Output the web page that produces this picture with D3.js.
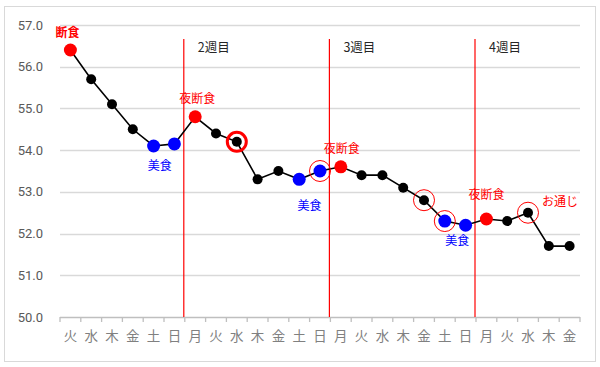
<!DOCTYPE html>
<html><head><meta charset="utf-8">
<script src="https://cdn.jsdelivr.net/npm/d3@7"></script>
<style>body{margin:0;background:#fff;font-family:"Noto Sans CJK JP","Noto Sans",sans-serif;}</style>
</head><body>
<svg id="c" width="600" height="367"></svg>
<script>
const days = ["火","水","木","金","土","日","月","火","水","木","金","土","日","月","火","水","木","金","土","日","月","火","水","木","金"];
const weights = [56.4,55.7,55.1,54.5,54.1,54.15,54.8,54.4,54.2,53.3,53.5,53.3,53.5,53.6,53.4,53.4,53.1,52.8,52.3,52.2,52.35,52.3,52.5,51.7,51.7];
// point type: r = 断食 (red), b = 美食 (blue), k = normal
const kinds = ["r","k","k","k","b","b","r","k","k","k","k","b","b","r","k","k","k","k","b","b","r","k","k","k","k"];
const thickRings = [8];
const thinRings = [12,17,18,22];
const yTicks = [50,51,52,53,54,55,56,57];
const weekStarts = [6,13,20];
const weekLabels = ["2週目","3週目","4週目"];
const noteTexts = ["断食","美食","夜断食","美食","夜断食","美食","夜断食","お通じ"];
const noteIndex = [0,4.3,6,11.5,13,18.6,20,22];
const noteKind = ["r","b","r","b","r","b","r","r"];

// layout for annotations (pixel offsets from the anchored point)
const noteLayout = [
  {dx:-3, dy:-13, bold:true},
  {dx:0, dy:24},
  {dx:2, dy:-14},
  {dx:0, dy:31},
  {dx:1, dy:-14},
  {dx:0, dy:24},
  {dx:0, dy:-20},
  {dx:32, dy:-7}
];

const svg = d3.select("#c");
svg.append("rect").attr("x",4.5).attr("y",6.5).attr("width",591).attr("height",355)
  .attr("fill","#fff").attr("stroke","#d9d9d9").attr("stroke-width",1);

const L=60, R=580, T=25, B=317;
const x = d3.scaleBand().domain(d3.range(days.length)).range([L,R]);
const cx = i => x(Math.floor(i)) + x.bandwidth()/2 + (i%1)*x.bandwidth();
const y = d3.scaleLinear().domain([50,57]).range([B,T]);

// gridlines
svg.append("g").selectAll("line").data(yTicks.filter(v=>v>50)).join("line")
  .attr("x1",L).attr("x2",R).attr("y1",d=>Math.round(y(d))+0.5).attr("y2",d=>Math.round(y(d))+0.5)
  .attr("stroke","#d9d9d9").attr("stroke-width",1.3);

// y labels
svg.append("g").selectAll("text").data(yTicks).join("text")
  .attr("x",43).attr("y",d=>y(d)+4.5).attr("text-anchor","end")
  .attr("font-family","Roboto, 'Noto Sans', sans-serif").attr("font-size",13).attr("fill","#595959")
  .text(d=>d.toFixed(1));

// x axis
const xa = svg.append("g").attr("transform",`translate(0,${B})`)
  .call(d3.axisBottom(x).tickFormat(i=>days[i]).tickSize(0).tickPadding(14));
xa.select(".domain").remove();
xa.selectAll("text").attr("font-size",13.5).attr("fill","#808080")
  .attr("font-family","'Noto Sans CJK JP', sans-serif");
svg.append("line").attr("x1",L).attr("x2",R).attr("y1",B+0.5).attr("y2",B+0.5).attr("stroke","#bfbfbf").attr("stroke-width",1.3);
svg.append("g").selectAll("line").data(d3.range(days.length+1)).join("line")
  .attr("x1",i=>i<days.length?x(i):R).attr("x2",i=>i<days.length?x(i):R)
  .attr("y1",B).attr("y2",B+5).attr("stroke","#bfbfbf").attr("stroke-width",1.3);

// week lines
weekStarts.forEach((w,k)=>{
  const xx = x(w) - 1;
  svg.append("line").attr("x1",xx).attr("x2",xx).attr("y1",39).attr("y2",B)
    .attr("stroke","#ff0000").attr("stroke-width",1.2);
  svg.append("text").attr("x",xx+14).attr("y",52).attr("font-size",12.5).attr("fill","#262626")
    .text(weekLabels[k]);
});

// line
svg.append("path").datum(weights)
  .attr("d",d3.line().x((d,i)=>cx(i)).y(d=>y(d)))
  .attr("fill","none").attr("stroke","#000").attr("stroke-width",1.6);

// points
const col = {r:"#ff0000",b:"#0000ff",k:"#000000"};
svg.append("g").selectAll("circle").data(weights).join("circle")
  .attr("cx",(d,i)=>cx(i)).attr("cy",d=>y(d))
  .attr("r",(d,i)=>kinds[i]==="k"?5:6.5)
  .attr("fill",(d,i)=>col[kinds[i]]);

// rings
svg.append("g").selectAll("circle").data(thickRings).join("circle")
  .attr("cx",i=>cx(i)).attr("cy",i=>y(weights[i])).attr("r",9.5)
  .attr("fill","none").attr("stroke","#ff0000").attr("stroke-width",3);
svg.append("g").selectAll("circle").data(thinRings).join("circle")
  .attr("cx",i=>cx(i)).attr("cy",i=>y(weights[i])).attr("r",10.5)
  .attr("fill","none").attr("stroke","#ff0000").attr("stroke-width",1);

// notes
noteTexts.forEach((t,k)=>{
  const i = noteIndex[k];
  const v = weights[Math.floor(i)];
  const lay = noteLayout[k];
  svg.append("text").attr("x",cx(i)+lay.dx).attr("y",y(v)+lay.dy).attr("text-anchor","middle")
    .attr("font-size",12).attr("font-weight",lay.bold?"bold":"normal")
    .attr("fill",col[noteKind[k]]).text(t);
});
</script>
</body></html>
